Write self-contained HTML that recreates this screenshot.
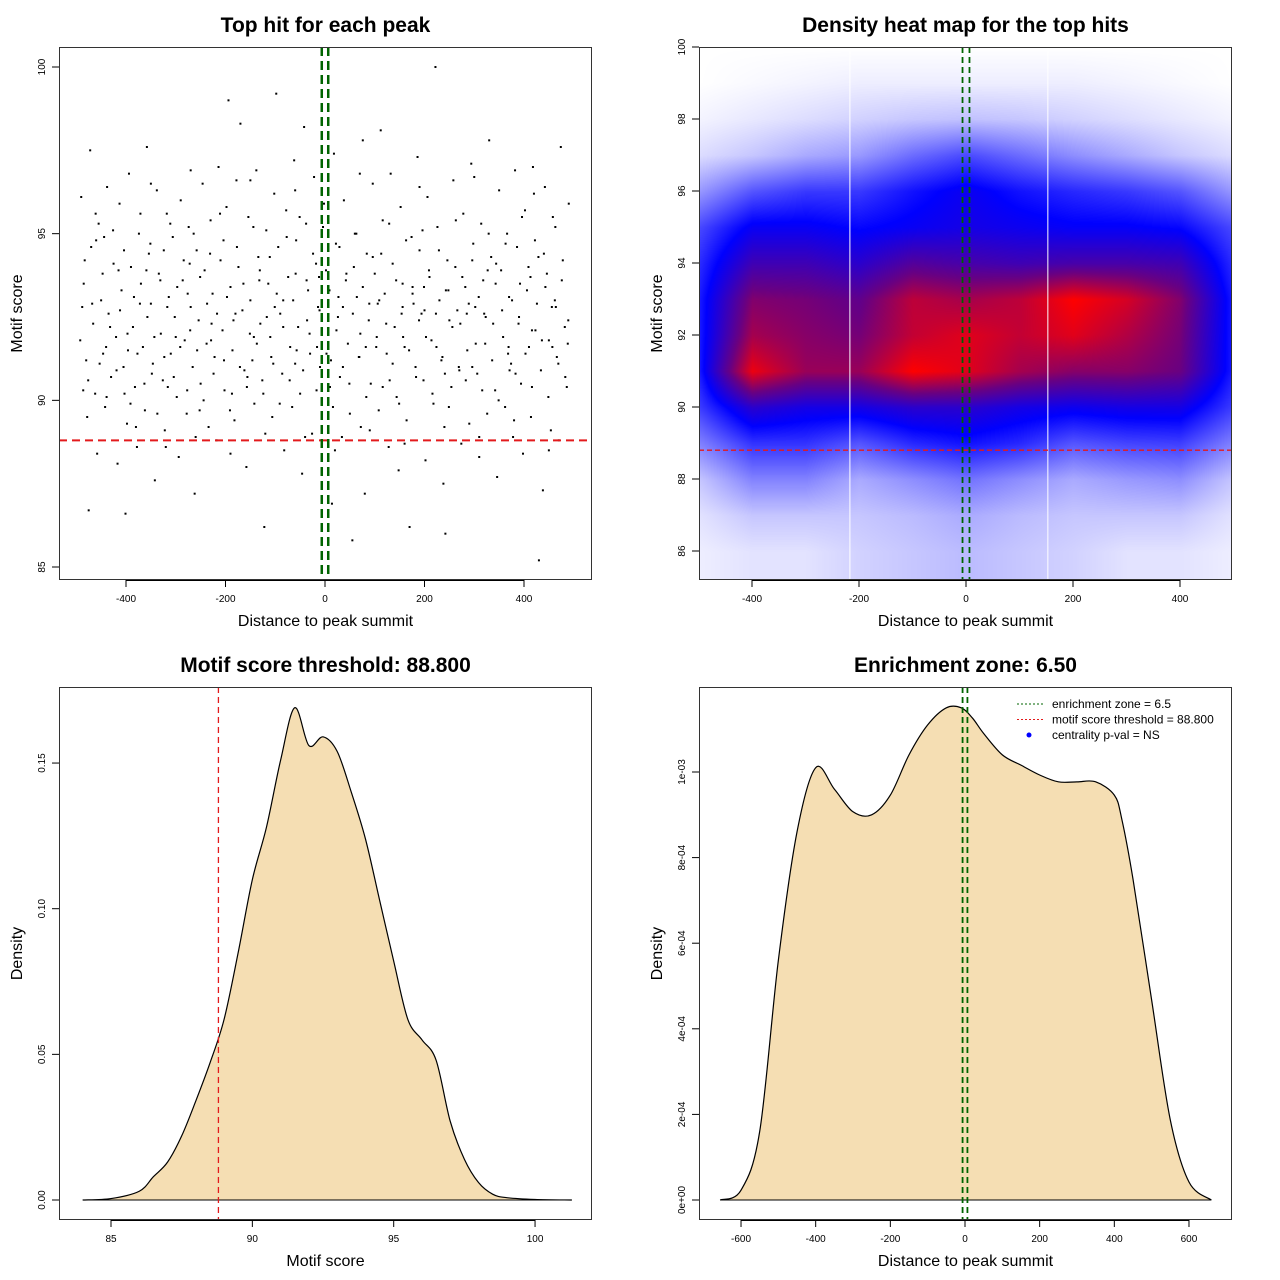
<!DOCTYPE html>
<html><head><meta charset="utf-8"><style>
html,body{margin:0;padding:0;background:#fff;width:1280px;height:1280px;overflow:hidden}
#heat{position:absolute;left:699px;top:47px}
#svg{position:absolute;left:0;top:0}
text{font-family:"Liberation Sans",sans-serif}
</style></head><body>
<canvas id="heat" width="533" height="533"></canvas>
<svg id="svg" width="1280" height="1280" xmlns="http://www.w3.org/2000/svg"></svg>
<script>
// ---------- data ----------
const scatterPoints = "-490,96.1;-485,93.5;-480,91.2;-478,89.5;-475,86.7;-472,97.5;-470,94.6;-466,92.3;-462,90.2;-458,88.4;-455,95.3;-450,93.0;-446,91.4;-442,89.8;-438,96.4;-435,92.6;-430,90.7;-425,94.1;-420,91.9;-417,88.1;-413,95.9;-409,93.3;-405,91.0;-401,86.6;-398,89.3;-394,96.8;-390,94.0;-386,92.2;-382,90.4;-378,88.6;-374,95.0;-370,93.5;-366,91.6;-362,89.7;-358,97.6;-354,94.4;-350,92.9;-346,91.1;-342,87.6;-338,96.3;-334,93.8;-330,92.0;-326,90.6;-322,89.1;-318,95.6;-314,93.1;-310,91.4;-306,94.9;-302,92.5;-298,90.1;-294,88.3;-290,96.0;-286,93.6;-282,91.8;-278,89.6;-274,95.2;-270,92.8;-266,91.0;-262,87.2;-258,94.5;-254,92.4;-250,90.5;-246,96.5;-242,93.9;-238,91.7;-234,89.2;-230,95.4;-226,93.2;-222,91.3;-218,88.8;-214,97.0;-210,94.2;-206,92.1;-202,90.3;-198,95.8;-194,99.0;-190,93.4;-186,91.5;-182,89.4;-178,96.6;-174,94.0;-170,98.3;-166,92.7;-162,90.9;-158,88.0;-154,95.5;-150,93.0;-146,91.2;-142,89.9;-138,96.9;-134,94.3;-130,92.3;-126,90.6;-122,86.2;-118,95.1;-114,93.5;-110,91.9;-106,89.5;-102,96.2;-98,99.2;-94,94.6;-90,92.6;-86,90.8;-82,88.5;-78,95.7;-74,93.7;-70,91.6;-66,89.8;-62,97.2;-58,94.8;-54,92.2;-50,90.2;-46,87.8;-42,98.2;-38,95.3;-34,93.3;-30,91.4;-26,89.0;-22,96.7;-18,94.1;-14,92.8;-10,91.0;-6,88.7;-2,95.9;2,93.9;6,92.0;10,90.4;14,86.9;18,97.4;22,94.7;26,92.5;30,90.7;34,88.9;38,96.0;42,93.6;46,91.7;50,89.6;55,85.8;60,95.0;64,93.1;68,91.3;72,89.2;76,97.8;80,87.2;84,94.4;88,92.4;92,90.5;96,96.5;100,93.8;104,91.9;108,89.7;112,98.1;116,95.4;120,93.2;124,91.4;128,88.6;132,96.8;136,94.1;140,92.2;144,90.1;148,87.9;152,95.8;156,93.5;160,91.6;164,89.4;170,86.2;174,94.9;178,92.9;182,91.0;186,97.3;190,94.5;194,92.6;198,90.6;202,88.2;206,96.1;210,93.7;214,91.8;218,89.9;222,100;226,95.2;230,93.0;234,91.2;238,87.5;242,86.0;246,94.2;250,92.4;254,90.4;258,96.6;262,94.0;266,92.7;270,90.9;274,88.7;278,95.6;282,93.4;286,91.5;290,89.3;294,97.1;298,94.7;302,92.8;306,90.8;310,88.3;314,95.3;318,93.6;322,91.7;326,89.6;330,97.8;334,94.3;338,92.3;342,90.3;346,87.7;350,96.3;354,93.9;358,91.9;362,89.8;366,95.0;370,93.1;374,91.1;378,88.9;382,96.9;386,94.6;390,92.5;394,90.5;398,88.4;402,95.7;406,93.3;410,91.6;414,89.5;418,97.0;422,94.8;426,92.9;430,85.2;434,90.9;438,87.3;442,96.4;446,93.8;450,91.8;454,89.1;458,95.5;462,93.0;466,91.3;470,88.8;474,97.6;478,94.2;482,92.2;486,90.4;490,95.9;-488,92.8;-460,94.8;-440,91.6;-415,93.9;-396,91.5;-372,92.9;-348,90.8;-324,94.5;-300,91.9;-276,93.2;-252,89.7;-228,92.3;-204,94.8;-180,92.6;-156,90.7;-132,93.6;-108,91.3;-84,93.0;-60,91.1;-36,92.4;-12,93.7;12,91.2;36,92.8;58,94.0;82,91.6;106,92.9;130,90.6;154,92.6;176,93.4;200,92.7;224,91.6;248,93.3;272,92.3;296,91.0;320,92.6;344,94.1;368,91.4;392,93.5;416,92.1;440,94.4;464,92.8;488,91.7";
const scatterPoints2 = "-492,91.8;-483,94.2;-476,90.6;-468,92.9;-461,95.6;-453,91.1;-447,93.8;-439,90.1;-432,92.2;-426,95.1;-419,90.9;-412,92.7;-404,94.5;-397,92.0;-391,89.9;-384,93.1;-377,91.4;-371,95.6;-363,90.5;-357,92.5;-351,94.7;-343,91.9;-337,89.6;-331,93.6;-323,91.3;-317,92.8;-311,95.3;-304,90.7;-297,93.4;-291,91.6;-284,94.2;-277,90.3;-271,92.1;-264,95.0;-257,91.5;-251,93.7;-244,90.0;-237,92.9;-231,94.4;-224,90.8;-217,92.6;-211,95.6;-203,91.2;-197,93.1;-191,89.7;-184,92.4;-177,94.6;-171,91.0;-164,93.5;-157,90.4;-151,92.0;-144,95.2;-137,91.7;-131,93.9;-124,90.2;-117,92.5;-111,94.3;-104,91.1;-97,93.2;-91,89.9;-84,92.2;-77,94.9;-71,90.6;-64,93.0;-57,91.5;-51,95.5;-44,90.9;-37,93.6;-31,92.0;-24,94.4;-17,90.3;-11,92.7;-4,95.2;3,91.4;9,93.3;16,89.8;23,92.1;29,94.6;36,91.0;43,93.8;49,90.5;56,92.6;63,95.0;69,91.3;76,93.4;83,90.1;89,92.9;96,94.3;103,91.6;109,93.0;116,90.4;123,92.3;129,95.3;136,91.1;143,93.6;149,89.9;156,92.8;163,94.8;169,91.5;176,93.2;183,90.7;189,92.4;196,95.1;203,91.9;209,93.9;216,90.2;223,92.6;229,94.5;236,91.3;243,93.3;249,89.8;256,92.2;263,95.4;269,91.0;276,93.7;283,90.6;289,92.9;296,94.2;303,91.7;309,93.1;316,90.3;323,92.5;329,95.0;336,91.2;343,93.5;349,90.0;356,92.7;363,94.7;369,91.6;376,93.0;383,90.8;389,92.3;396,95.5;403,91.4;409,94.0;416,90.4;423,92.1;429,94.3;436,91.8;443,93.4;449,90.1;456,92.8;463,95.2;469,91.1;476,93.6;483,90.7;489,92.4;-486,90.3;-444,94.9;-403,90.2;-359,93.9;-316,90.4;-272,94.1;-229,91.8;-187,90.2;-143,91.9;-101,92.8;-59,93.8;-16,91.6;27,93.1;71,92.0;113,94.4;157,91.9;199,93.4;241,90.8;285,92.6;327,93.9;371,90.9;413,93.7;457,91.6;-380,89.2;-320,88.6;-260,88.9;-190,88.4;-120,89.0;-40,88.9;20,88.5;90,89.1;160,88.7;240,89.2;310,88.9;380,89.4;450,88.5;-350,96.5;-270,96.9;-150,96.6;-60,96.3;70,96.8;190,96.4;300,96.7;420,96.2";
const heatX = [-500,-400,-300,-200,-100,0,100,200,300,400,500];
const heatY = [86,87,88,89,90,91,92,93,94,95,96,97,98,99,100];
const heatZ = [
 [0.03,0.05,0.05,0.08,0.1,0.12,0.1,0.08,0.05,0.05,0.03],
 [0.05,0.1,0.1,0.1,0.12,0.15,0.12,0.1,0.1,0.1,0.05],
 [0.1,0.22,0.22,0.15,0.2,0.25,0.2,0.15,0.18,0.2,0.1],
 [0.22,0.36,0.36,0.3,0.38,0.42,0.38,0.3,0.33,0.34,0.22],
 [0.34,0.55,0.5,0.5,0.55,0.55,0.5,0.48,0.5,0.5,0.34],
 [0.4,0.92,0.78,0.78,0.95,0.9,0.8,0.75,0.75,0.7,0.4],
 [0.4,0.8,0.75,0.72,0.85,0.9,0.85,0.9,0.82,0.72,0.4],
 [0.4,0.74,0.72,0.68,0.84,0.8,0.84,0.95,0.88,0.74,0.4],
 [0.37,0.6,0.6,0.55,0.65,0.62,0.6,0.62,0.62,0.6,0.37],
 [0.32,0.47,0.47,0.44,0.47,0.5,0.48,0.46,0.46,0.44,0.32],
 [0.18,0.3,0.35,0.35,0.42,0.48,0.42,0.38,0.35,0.3,0.18],
 [0.06,0.1,0.15,0.18,0.26,0.32,0.26,0.2,0.15,0.1,0.06],
 [0.02,0.04,0.06,0.08,0.1,0.11,0.1,0.08,0.06,0.04,0.02],
 [0.0,0.01,0.02,0.03,0.03,0.03,0.03,0.03,0.02,0.01,0.0],
 [0,0,0,0,0,0,0,0,0,0,0]];
const scoreX = [84,85,86,86.5,87,87.5,88,88.5,89,89.5,90,90.5,91,91.5,92,92.5,93,93.5,94,94.5,95,95.5,96,96.5,97,97.5,98,98.5,99,100,101.3];
const scoreD = [0,0.0005,0.003,0.008,0.013,0.022,0.034,0.047,0.062,0.085,0.11,0.128,0.151,0.169,0.156,0.159,0.154,0.14,0.124,0.103,0.082,0.062,0.055,0.048,0.027,0.014,0.006,0.002,0.0008,0.0002,0];
const distX = [-656,-600,-550,-500,-450,-400,-350,-300,-250,-200,-150,-100,-50,-10,20,50,100,150,200,250,300,350,400,420,450,500,550,600,660];
const distD = [0,2.3e-5,1.6e-4,5.6e-4,8.6e-4,1.01e-3,9.6e-4,9.07e-4,9.0e-4,9.46e-4,1.04e-3,1.11e-3,1.15e-3,1.15e-3,1.126e-3,1.09e-3,1.04e-3,1.016e-3,9.93e-4,9.77e-4,9.77e-4,9.77e-4,9.46e-4,8.9e-4,7.5e-4,4.67e-4,1.87e-4,4.2e-5,0];
const threshold = 88.8;
const zone = 6.5;
const whiteLines = [-217,153];

// ---------- helpers ----------
const NS="http://www.w3.org/2000/svg";
const svg=document.getElementById('svg');
function el(tag,attrs,parent,txt){const e=document.createElementNS(NS,tag);for(const k in attrs)e.setAttribute(k,attrs[k]);if(txt!==undefined)e.textContent=txt;(parent||svg).appendChild(e);return e;}
const panels={
 p1:{L:59,R:592,T:47,B:580,x:v=>325+0.4975*v,y:v=>567-33.333*(v-85)},
 p2:{L:699,R:1232,T:47,B:580,x:v=>966+0.535*v,y:v=>551-36*(v-86)},
 p3:{L:59,R:592,T:687,B:1220,x:v=>111+28.27*(v-85),y:v=>1200-2913*v},
 p4:{L:699,R:1232,T:687,B:1220,x:v=>965+0.3733*v,y:v=>1200-428000*v}
};
function axes(p,name,xt,xl,yt,yl,title,xtitle){
 const g=el('g',{});
 
 
 xt.forEach((v,i)=>{const X=p.x(v);el('line',{x1:X,x2:X,y1:p.B,y2:p.B+7,stroke:'#000'},g);
  const t=el('text',{x:X,y:p.B+22,'font-size':10,'text-anchor':'middle'},g,xl[i]);
  });
 el('line',{x1:p.x(xt[0]),x2:p.x(xt[xt.length-1]),y1:p.B+0.5,y2:p.B+0.5,stroke:'#000'},g);
 yt.forEach((v,i)=>{const Y=p.y(v);el('line',{x1:p.L-7,x2:p.L,y1:Y,y2:Y,stroke:'#000'},g);
  const t=el('text',{x:p.L-14,y:Y,'font-size':10,'text-anchor':'middle',transform:`rotate(-90 ${p.L-14} ${Y})`},g,yl[i]);
  });
 el('rect',{x:p.L+0.5,y:p.T+0.5,width:p.R-p.L-1,height:p.B-p.T-1,fill:'none',stroke:'#333'},g);
 const cx=(p.L+p.R)/2, cy=(p.T+p.B)/2;
 const tt=el('text',{x:cx,y:p.T-15,'font-size':21,'font-weight':'bold','text-anchor':'middle'},g,title);
 
 const xa=el('text',{x:cx,y:p.B+46,'font-size':16,'text-anchor':'middle'},g,xtitle);
 
 const ya=el('text',{x:p.L-37,y:cy,'font-size':16,'text-anchor':'middle',transform:`rotate(-90 ${p.L-37} ${cy})`},g,yl.title);
 
}
function smoothPath(p,xs,ys){
 const P=xs.map((v,i)=>[p.x(v),p.y(ys[i])]);
 let d=`M${P[0][0]},${P[0][1]}`;
 for(let i=0;i<P.length-1;i++){const p0=P[i-1]||P[i],p1=P[i],p2=P[i+1],p3=P[i+2]||P[i+1];
  d+=` C${p1[0]+(p2[0]-p0[0])/6},${p1[1]+(p2[1]-p0[1])/6} ${p2[0]-(p3[0]-p1[0])/6},${p2[1]-(p3[1]-p1[1])/6} ${p2[0]},${p2[1]}`;}
 return d;
}

// ---------- panel 1: scatter ----------
{const p=panels.p1;
 const g=el('g',{});
 
 
 (scatterPoints+';'+scatterPoints2).split(';').forEach(s=>{const [a,b]=s.split(',').map(Number);
  const c=el('rect',{x:p.x(a)-1,y:p.y(b)-1,width:2,height:2,fill:'#000'},g);
  });
 const th=el('line',{x1:p.L,x2:p.R,y1:p.y(threshold),y2:p.y(threshold),stroke:'#e31a1c','stroke-width':2,'stroke-dasharray':'8,5'});
 
 [-zone,zone].forEach(z=>{const l=el('line',{x1:p.x(z),x2:p.x(z),y1:p.T,y2:p.B,stroke:'#006400','stroke-width':2.5,'stroke-dasharray':'9,5'});
  });
 const yl=['85','90','95','100'];yl.title='Motif score';
 axes(p,'scatter',[-400,-200,0,200,400],['-400','-200','0','200','400'],[85,90,95,100],yl,'Top hit for each peak','Distance to peak summit');
}

// ---------- panel 2: heatmap ----------
{const p=panels.p2;
 const cv=document.getElementById('heat'),ctx=cv.getContext('2d');
 const img=ctx.createImageData(533,533);
 const stops=[[0,255,255,255],[0.45,0,0,255],[0.7,105,0,130],[0.95,255,0,0],[1,255,0,0]];
 function col(t){t=Math.max(0,Math.min(1,t));for(let i=0;i<stops.length-1;i++){const a=stops[i],b=stops[i+1];if(t<=b[0]){const f=(t-a[0])/(b[0]-a[0]);return [a[1]+f*(b[1]-a[1]),a[2]+f*(b[2]-a[2]),a[3]+f*(b[3]-a[3])];}}return [255,0,0];}
 for(let py=0;py<533;py++){const dy=86-(py+p.T-551)/36;
  let fy=(dy-heatY[0]);fy=Math.max(0,Math.min(heatY.length-1.0001,fy));const iy=Math.floor(fy),ty=fy-iy;
  for(let px=0;px<533;px++){const dx=(px+p.L-966)/0.535;
   let fx=(dx-heatX[0])/100;fx=Math.max(0,Math.min(heatX.length-1.0001,fx));const ix=Math.floor(fx),tx=fx-ix;
   const z=(heatZ[iy][ix]*(1-tx)+heatZ[iy][ix+1]*tx)*(1-ty)+(heatZ[iy+1][ix]*(1-tx)+heatZ[iy+1][ix+1]*tx)*ty;
   const c=col(z),k=(py*533+px)*4;img.data[k]=c[0];img.data[k+1]=c[1];img.data[k+2]=c[2];img.data[k+3]=255;}}
 ctx.putImageData(img,0,0);
 whiteLines.forEach(v=>{const l=el('line',{x1:p.x(v),x2:p.x(v),y1:p.T,y2:p.B,stroke:'#fff','stroke-width':1});
  });
 const th=el('line',{x1:p.L,x2:p.R,y1:p.y(threshold),y2:p.y(threshold),stroke:'#e31a1c','stroke-width':1.3,'stroke-dasharray':'5,3'});
 
 [-zone,zone].forEach(z=>{const l=el('line',{x1:p.x(z),x2:p.x(z),y1:p.T,y2:p.B,stroke:'#006400','stroke-width':1.8,'stroke-dasharray':'6,4'});
  });
 const yt=[86,88,90,92,94,96,98,100];const yl=yt.map(String);yl.title='Motif score';
 axes(p,'heatmap',[-400,-200,0,200,400],['-400','-200','0','200','400'],yt,yl,'Density heat map for the top hits','Distance to peak summit');
}

// ---------- panel 3: score density ----------
{const p=panels.p3;
 const d=smoothPath(p,scoreX,scoreD);
 const a=el('path',{d:d+` L${p.x(scoreX[scoreX.length-1])},${p.y(0)} L${p.x(scoreX[0])},${p.y(0)} Z`,fill:'#f5deb3',stroke:'none'});
 
 el('line',{x1:p.x(scoreX[0]),x2:p.x(scoreX[scoreX.length-1]),y1:p.y(0),y2:p.y(0),stroke:'#000'});
 const c=el('path',{d:d,fill:'none',stroke:'#000','stroke-width':1.2});
 
 const th=el('line',{x1:p.x(threshold),x2:p.x(threshold),y1:p.T,y2:p.B,stroke:'#e31a1c','stroke-width':1.3,'stroke-dasharray':'6,4'});
 
 const yl=['0.00','0.05','0.10','0.15'];yl.title='Density';
 axes(p,'score-density',[85,90,95,100],['85','90','95','100'],[0,0.05,0.10,0.15],yl,'Motif score threshold: 88.800','Motif score');
}

// ---------- panel 4: distance density ----------
{const p=panels.p4;
 const d=smoothPath(p,distX,distD);
 const a=el('path',{d:d+` L${p.x(distX[distX.length-1])},${p.y(0)} L${p.x(distX[0])},${p.y(0)} Z`,fill:'#f5deb3',stroke:'none'});
 
 el('line',{x1:p.x(distX[0]),x2:p.x(distX[distX.length-1]),y1:p.y(0),y2:p.y(0),stroke:'#000'});
 const c=el('path',{d:d,fill:'none',stroke:'#000','stroke-width':1.2});
 
 [-zone,zone].forEach(z=>{const l=el('line',{x1:p.x(z),x2:p.x(z),y1:p.T,y2:p.B,stroke:'#006400','stroke-width':1.8,'stroke-dasharray':'6,4'});
  });
 const yt=[0,2e-4,4e-4,6e-4,8e-4,1e-3];const yl=['0e+00','2e-04','4e-04','6e-04','8e-04','1e-03'];yl.title='Density';
 axes(p,'distance-density',[-600,-400,-200,0,200,400,600],['-600','-400','-200','0','200','400','600'],yt,yl,'Enrichment zone: 6.50','Distance to peak summit');
 const lg=el('g',{});
 
 
 const items=[['enrichment zone = 6.5','#006400','line'],['motif score threshold = 88.800','#e31a1c','line'],['centrality p-val = NS','#0000ff','dot']];
 items.forEach((it,i)=>{const y=704+i*15.5;
  if(it[2]==='line')el('line',{x1:1017,x2:1043,y1:y,y2:y,stroke:it[1],'stroke-width':1,'stroke-dasharray':'2,2'},lg);
  else el('circle',{cx:1029,cy:y,r:2.5,fill:it[1]},lg);
  const t=el('text',{x:1052,y:y+4,'font-size':12},lg,it[0]);
  });
}
</script>
</body></html>
